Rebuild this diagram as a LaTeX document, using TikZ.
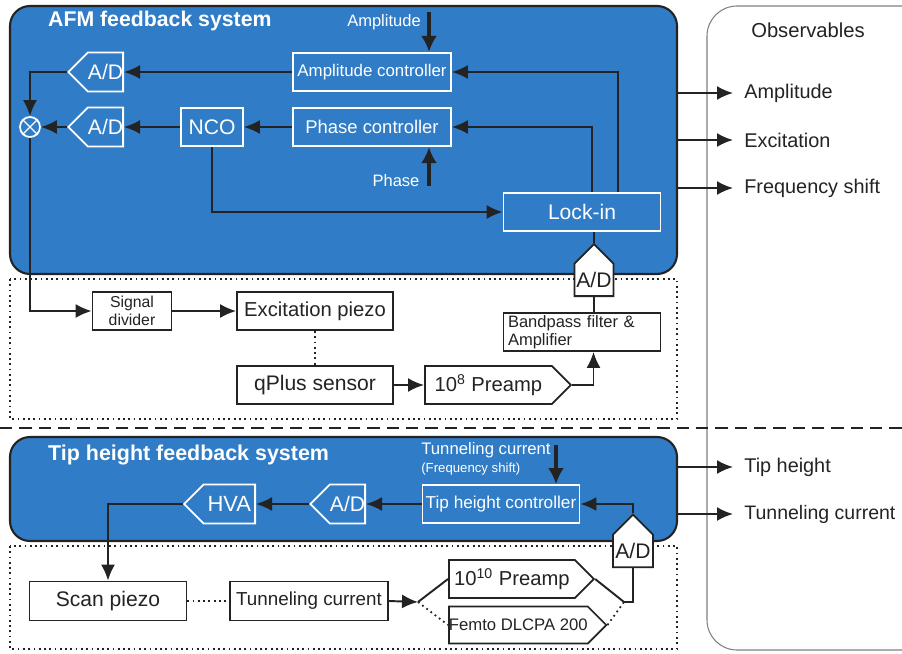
\documentclass[tikz,border=0pt]{standalone}
\usepackage{fontspec}
\setmainfont{Liberation Sans}
\usepackage{xcolor}
\usepackage{tikz}
\usetikzlibrary{shapes.symbols, arrows.meta, positioning}
\definecolor{afmblue}{RGB}{48,124,198}
\definecolor{ink}{RGB}{35,35,35}

\begin{document}
\begin{tikzpicture}[
  x=0.2mm, y=-0.2mm,
  sys/.style={draw=ink, line width=1.2pt, rounded corners=4mm, fill=afmblue, inner sep=0pt},
  ctl/.style={draw=white, line width=1pt, text=white, inner sep=0pt, minimum height=7.7mm, align=center},
  blk/.style={draw=ink, line width=1pt, fill=white, text=ink, inner sep=0pt, minimum height=7.7mm, align=center},
  conv/.style={signal, signal pointer angle=90, draw=white, text=white, line width=1pt, inner sep=0pt, minimum height=7.8mm, font=\fontsize{12}{14}\selectfont},
  convw/.style={conv, draw=ink, fill=white, text=ink},
  ttl/.style={text=white, font=\bfseries\fontsize{12.1}{15}\selectfont, anchor=west},
  lbl/.style={text=white, font=\fontsize{9.4}{11}\selectfont},
  obs/.style={text=ink, anchor=west, inner sep=2.2mm, font=\fontsize{11.3}{14}\selectfont},
  frame/.style={draw=ink, line width=1pt, dotted},
  wire/.style={draw=ink, line width=1.1pt},
  arr/.style={wire, -{Latex[length=3.2mm,width=2.8mm]}},
  feed/.style={draw=ink, line width=2.2pt, -{Latex[length=3.2mm,width=3.2mm]}},
  dots/.style={draw=ink, line width=1pt, dotted}
]
\clip (0,0) rectangle (902,653);

% observables panel and separator
\draw[gray, line width=0.6pt, rounded corners=6mm] (707,6) rectangle (960,650);
\node[text=ink, font=\fontsize{11.5}{14}\selectfont] (obstitle) at (808,30) {Observables};
\draw[draw=ink, line width=1.1pt, dash pattern=on 7pt off 4pt] (0,428) -- (902,428);

% dotted hardware frames
\draw[frame] (10,279) rectangle (677,419);
\draw[frame] (10,546) rectangle (677,649);

% AFM feedback system
\node[sys, minimum width=133.4mm, minimum height=53.6mm] (afm) at (343.5,140) {};
\node[ttl] (afmtitle) at (42,21) {AFM feedback system};

\node[ctl, minimum width=31.6mm, font=\fontsize{9.6}{12}\selectfont] (ampctl) at (372,72) {Amplitude controller};
\node[ctl, minimum width=31.6mm, font=\fontsize{10.5}{12}\selectfont] (phasectl) at (372,127) {Phase controller};
\node[ctl, minimum width=12.4mm, font=\fontsize{12}{14}\selectfont] (nco) at (212,127) {NCO};
\node[conv, signal to=west, minimum width=10.2mm, anchor=east] (adamp) at (124,72) {A/D};
\node[conv, signal to=west, minimum width=10.2mm, anchor=east] (adnco) at (124,127) {A/D};
\node[circle, draw=white, line width=1pt, minimum size=4mm, inner sep=0pt] (mix) at (30,127) {};
\draw[white, line width=0.8pt] (mix.north west) -- (mix.south east) (mix.north east) -- (mix.south west);
\node[ctl, minimum width=31.4mm, minimum height=7.6mm, font=\fontsize{12}{14}\selectfont] (lockin) at (582,212) {Lock-in};

\node[lbl] (amplabel) at (384,22) {Amplitude};
\coordinate (ampin) at (429,12);
\node[lbl] (phaselabel) at (396,181) {Phase};
\coordinate (phasein) at (429,186);

% AFM hardware
\node[convw, signal to=north, minimum width=7.8mm, minimum height=10mm, anchor=south] (adlock) at (594,297) {A/D};
\node[blk, minimum width=31.4mm, minimum height=7.6mm, align=left, text width=29.6mm, font=\fontsize{9.4}{10.5}\selectfont] (bandpass) at (582,332) {Bandpass filter \&\\Amplifier};
\node[convw, signal to=east, minimum width=29.2mm, minimum height=7.6mm, anchor=west, font=\fontsize{11.5}{14}\selectfont] (pre8) at (424,385) {10\textsuperscript{8} Preamp};
\node[blk, minimum width=31.2mm, font=\fontsize{12}{14}\selectfont] (qplus) at (315,385) {qPlus sensor};
\node[blk, minimum width=31.2mm, font=\fontsize{11.5}{14}\selectfont] (excpiezo) at (315,311) {Excitation piezo};
\node[blk, minimum width=15.8mm, font=\fontsize{9}{10.5}\selectfont] (divider) at (132,311) {Signal\\divider};

\draw[arr] (ampctl.west) -- (adamp.east);
\draw[arr] (adamp.west) -| (mix.north);
\draw[arr] (phasectl.west) -- (nco.east);
\draw[arr] (nco.west) -- (adnco.east);
\draw[arr] (adnco.west) -- (mix.east);
\draw[arr] (nco.south) |- (lockin.west);
\draw[arr] ([xshift=7.2mm]lockin.north) |- (ampctl.east);
\draw[arr] ([xshift=2mm]lockin.north) |- (phasectl.east);
\draw[feed] (ampin) -- (ampin |- ampctl.north);
\draw[feed] (phasein) -- (phasein |- phasectl.south);
\draw[wire] (adlock.north) -- (adlock.north |- lockin.south);
\draw[wire] (adlock.south) -- (adlock.south |- bandpass.north);
\draw[arr] (pre8.east) -| ([xshift=2.3mm]bandpass.south);
\draw[arr] (qplus.east) -- (pre8.west);
\draw[dots] (excpiezo.south) -- (qplus.north);
\draw[arr] (mix.south) |- (divider.west);
\draw[arr] (divider.east) -- (excpiezo.west);

% AFM observables
\node[obs] (outamp) at (733,93) {Amplitude};
\node[obs] (outexc) at (733,140) {Excitation};
\node[obs] (outfreq) at (733,188) {Frequency shift};
\draw[arr] (afm.east |- outamp.west) -- (outamp.west);
\draw[arr] (afm.east |- outexc.west) -- (outexc.west);
\draw[arr] (afm.east |- outfreq.west) -- (outfreq.west);

% Tip height feedback system
\node[sys, minimum width=133.4mm, minimum height=20.8mm] (tip) at (343.5,489) {};
\node[ttl, font=\bfseries\fontsize{12.2}{15}\selectfont] (tiptitle) at (42,455) {Tip height feedback system};

\node[ctl, minimum width=31.4mm, minimum height=7.6mm, font=\fontsize{9.8}{12}\selectfont] (tipctl) at (501,504) {Tip height controller};
\node[conv, signal to=west, minimum width=10.4mm, anchor=east] (adtip) at (366,504) {A/D};
\node[conv, signal to=west, minimum width=14.2mm, anchor=east, font=\fontsize{12.5}{14}\selectfont] (hva) at (256,504) {HVA};
\node[lbl, anchor=west, align=left, inner sep=0pt, font=\fontsize{9.5}{10}\selectfont] (tclabel) at (421,459) {Tunneling current\\{\fontsize{7.5}{9}\selectfont(Frequency shift)}};
\coordinate (tcin) at (556,445);

% STM hardware
\node[convw, signal to=north, minimum width=8mm, minimum height=10mm, anchor=south] (adcur) at (633,568) {A/D};
\node[blk, minimum width=31.4mm, minimum height=7.8mm, font=\fontsize{12}{14}\selectfont] (scan) at (108,601) {Scan piezo};
\node[blk, minimum width=31.6mm, minimum height=7.8mm, font=\fontsize{10.7}{13}\selectfont] (tunnel) at (309,601) {Tunneling current};
\node[convw, signal to=east, minimum width=29mm, minimum height=7.6mm, anchor=west, font=\fontsize{11.5}{14}\selectfont] (pre10) at (448,579) {10\textsuperscript{10} Preamp};
\node[convw, signal to=east, minimum width=29mm, minimum height=7.4mm, anchor=west, font=\fontsize{9.5}{12}\selectfont] (femto) at (448,625) {Femto DLCPA 200};
\coordinate (split) at (418,602);
\coordinate (join) at (624,602);

\draw[feed] (tcin) -- (tcin |- tipctl.north);
\draw[arr] (tipctl.west) -- (adtip.east);
\draw[arr] (adtip.west) -- (hva.east);
\draw[arr] (hva.west) -| (scan.north);
\draw[arr] (adcur.north) |- (tipctl.east);
\draw[dots] (scan.east) -- (tunnel.west);
\draw[arr] (tunnel.east) -- (split);
\draw[wire] (split) -- (pre10.west);
\draw[dots] (split) -- (femto.west);
\draw[wire] (pre10.east) -- (join) -| (adcur.south);
\draw[dots] (femto.east) -- (join);

% tip observables
\node[obs] (outtip) at (733,467) {Tip height};
\node[obs, font=\fontsize{11.1}{14}\selectfont] (outcur) at (733,514) {Tunneling current};
\draw[arr] (tip.east |- outtip.west) -- (outtip.west);
\draw[arr] (tip.east |- outcur.west) -- (outcur.west);
\end{tikzpicture}
\end{document}
